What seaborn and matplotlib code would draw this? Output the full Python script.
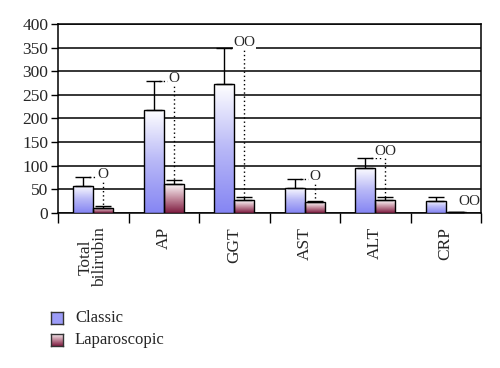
import numpy as np
import pandas as pd
import matplotlib
matplotlib.use("Agg")
import matplotlib.pyplot as plt
import seaborn as sns
from matplotlib.colors import LinearSegmentedColormap

categories = ["Total\nbilirubin", "AP", "GGT", "AST", "ALT", "CRP"]
groups = ["Classic", "Laparoscopic"]
classic_vals = [58, 218, 272, 54, 96, 26]
classic_err = [19, 62, 77, 19, 20, 7]
lap_vals = [11, 62, 27, 23, 27, 3]
lap_err = [4, 7, 7, 3, 7, 0]
sig_labels = ["O", "O", "OO", "O", "OO", "OO"]
yticks = [0, 50, 100, 150, 200, 250, 300, 350, 400]

df = pd.DataFrame({
    "category": categories * 2,
    "group": [groups[0]] * len(categories) + [groups[1]] * len(categories),
    "value": classic_vals + lap_vals,
})

sns.set_style("white")
plt.rcParams["font.family"] = ["Liberation Serif", "DejaVu Serif"]

fig = plt.figure(figsize=(5.0, 3.68), dpi=100)
ax = fig.add_axes([0.116, 0.421, 0.846, 0.514])

sns.barplot(data=df, x="category", y="value", hue="group", order=categories,
            hue_order=groups, width=0.57, errorbar=None, ax=ax, legend=False,
            edgecolor="black", linewidth=1.0, palette=["#8a8af5", "#8b2a4a"], zorder=3)

cmaps = {
    "Classic": LinearSegmentedColormap.from_list("c", ["#8585f3", "#b8b8f7", "#ffffff"]),
    "Laparoscopic": LinearSegmentedColormap.from_list("l", ["#7e1c40", "#c48d9f", "#ffffff"]),
}
grad = np.linspace(0, 1, 256).reshape(-1, 1)

ax.set_ylim(0, 400)
ax.set_xlim(-0.5, len(categories) - 0.5)

bars = ax.patches
n = len(categories)
centers = {}
for gi, g in enumerate(groups):
    for ci in range(n):
        p = bars[gi * n + ci]
        x0, w, h = p.get_x(), p.get_width(), p.get_height()
        centers[(gi, ci)] = (x0 + w / 2, h)
        p.set_facecolor("none")
        im = ax.imshow(grad, cmap=cmaps[g], aspect="auto", origin="lower",
                       extent=[x0, x0 + w, 0, max(h, 0.01)], zorder=2.9,
                       interpolation="bilinear")
        im.set_clip_path(p)

errs = [classic_err, lap_err]
for gi in range(2):
    xs = [centers[(gi, ci)][0] for ci in range(n)]
    ys = [centers[(gi, ci)][1] for ci in range(n)]
    e = errs[gi]
    ax.errorbar(xs, ys, yerr=[np.zeros(n), e], fmt="none", ecolor="black",
                elinewidth=1.0, capsize=6, capthick=1.0, zorder=4)

# significance markers with dotted connectors
for ci in range(n):
    cx, ch = centers[(0, ci)]
    lx, lh = centers[(1, ci)]
    top_c = ch + classic_err[ci]
    top_l = lh + lap_err[ci]
    lab = sig_labels[ci]
    if categories[ci] == "CRP":
        ax.text(lx + 0.03, top_c - 8, lab, ha="left", va="center", fontsize=11, zorder=5)
        continue
    ty = top_c + (15 if categories[ci] == "ALT" else 4)
    if categories[ci] == "GGT":
        ty = top_c + 12
    ax.text(lx, ty, lab, ha="center", va="center", fontsize=11, zorder=5,
            bbox=dict(facecolor="white", edgecolor="none", pad=0.5))
    ax.plot([cx + 0.08, lx - 0.04], [top_c, top_c], ls=(0, (1, 2)), color="black", lw=1.0, zorder=4)
    ax.plot([lx, lx], [ty - 7, top_l], ls=(0, (1, 2)), color="black", lw=1.0, zorder=4)

ax.set_yticks(yticks)
ax.set_yticklabels([str(v) for v in yticks], fontsize=12.5)
ax.yaxis.grid(True, color="black", linewidth=1.1, zorder=0)
ax.set_axisbelow(True)

ax.set_xticks(np.arange(-0.5, n, 1.0))
ax.set_xticklabels([])
ax.set_xticks(np.arange(n), minor=True)
ax.set_xticklabels(categories, minor=True, rotation=90, fontsize=12.5,
                   va="top", ha="center", linespacing=0.85)
ax.tick_params(axis="x", which="major", direction="out", length=7, width=1.0, color="black", bottom=True)
ax.tick_params(axis="x", which="minor", length=0, pad=10)
ax.tick_params(axis="y", direction="out", length=5, width=1.0, color="black", left=True, pad=2)
ax.set_xlabel("")
ax.set_ylabel("")
for s in ax.spines.values():
    s.set_color("black")
    s.set_linewidth(1.1)

# legend drawn in figure coordinates
W, H = 500, 368
def fig_rect(px, py, pw, ph):
    return [px / W, 1 - (py + ph) / H, pw / W, ph / H]

for i, g in enumerate(groups):
    py = 312 + i * 22
    lax = fig.add_axes(fig_rect(51, py, 12, 12))
    if g == "Classic":
        lax.imshow(np.ones((2, 2)), cmap=LinearSegmentedColormap.from_list("s", ["#9c9cf8", "#9c9cf8"]),
                   aspect="auto", vmin=0, vmax=1)
    else:
        lax.imshow(grad, cmap=cmaps[g], aspect="auto", origin="lower")
    lax.set_xticks([]); lax.set_yticks([])
    for s in lax.spines.values():
        s.set_color("#333333"); s.set_linewidth(1.0)
    fig.text(75 / W, 1 - (py + 6) / H, g, ha="left", va="center", fontsize=12)

fig.savefig("out.png", dpi=100)
